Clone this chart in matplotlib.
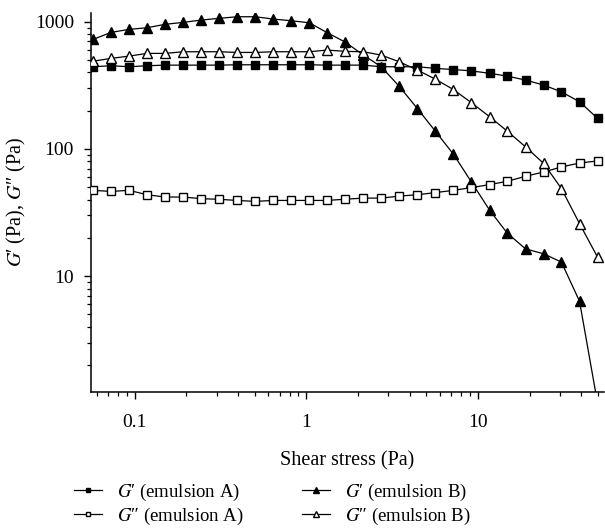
import matplotlib
matplotlib.use("Agg")
import matplotlib.pyplot as plt
import numpy as np

# ── Data ──────────────────────────────────────────────────────────
shear_stress = [0.0572, 0.0729, 0.0928, 0.118, 0.150, 0.192, 0.244, 0.311,
                0.396, 0.504, 0.641, 0.817, 1.04, 1.32, 1.69, 2.15, 2.73,
                3.48, 4.43, 5.64, 7.19, 9.15, 11.7, 14.8, 18.9, 24.1, 30.6,
                39.0, 49.7]

g1_A = [443, 451, 443, 451, 456, 456, 456, 456, 459, 459, 459, 459, 459,
        456, 456, 456, 443, 443, 443, 430, 421, 411, 393, 374, 348, 318,
        281, 235, 174]
g2_A = [47.3, 46.4, 47.3, 43.7, 41.9, 41.9, 40.7, 40.2, 39.4, 38.7, 39.4,
        39.4, 39.4, 39.4, 40.3, 41.1, 41.1, 42.6, 43.7, 45.4, 47.3, 49.7,
        52.5, 55.7, 61.0, 65.9, 72.2, 77.6, 80.5]
g1_B = [726, 825, 871, 897, 954, 989, 1031, 1064, 1095, 1095, 1050, 1018,
        982, 822, 690, 547, 443, 310, 208, 138, 90.9, 55.0, 32.9, 21.8,
        16.4, 15.0, 12.9, 6.36, 1.0]
g2_B = [490, 515, 537, 564, 564, 581, 581, 581, 574, 574, 581, 581, 581,
        599, 585, 581, 547, 484, 417, 354, 293, 231, 179, 138, 104, 77,
        48.8, 25.9, 14.1]

labels = [r"$G$′ (emulsion A)", r"$G$″ (emulsion A)",
          r"$G$′ (emulsion B)", r"$G$″ (emulsion B)"]

plt.rcParams['font.family'] = ['Liberation Serif', 'DejaVu Serif']
plt.rcParams['mathtext.fontset'] = 'stix'
plt.rcParams['font.size'] = 14

fig = plt.figure(figsize=(6.05, 5.29), dpi=100)
ax = fig.add_axes([0.150, 0.259, 0.848, 0.717])

lw = 0.9
ax.plot(shear_stress, g1_B, color='black', lw=lw, marker='^', ms=7,
        mfc='black', mec='black', label=labels[2], zorder=2)
ax.plot(shear_stress, g1_A, color='black', lw=lw, marker='s', ms=5.3,
        mfc='black', mec='black', label=labels[0], zorder=3)
ax.plot(shear_stress, g2_A, color='black', lw=lw, marker='s', ms=5.3,
        mfc='white', mec='black', mew=1.0, label=labels[1], zorder=3)
ax.plot(shear_stress, g2_B, color='black', lw=lw, marker='^', ms=7,
        mfc='white', mec='black', mew=1.0, label=labels[3], zorder=4)

ax.set_xscale('log')
ax.set_yscale('log')
ax.set_xlim(0.0555, 54.0)
ax.set_ylim(1.23, 1178)

ax.set_xticks([0.1, 1, 10])
ax.set_xticklabels(["0.1", "1", "10"])
ax.set_yticks([10, 100, 1000])
ax.set_yticklabels(["10", "100", "1000"])

ax.spines['top'].set_visible(False)
ax.spines['right'].set_visible(False)
for s in ('left', 'bottom'):
    ax.spines[s].set_linewidth(1.1)

ax.tick_params(which='major', direction='out', length=5, width=1.0, pad=7)
ax.tick_params(which='minor', direction='out', length=2.6, width=0.9)
ax.tick_params(axis='x', which='major', pad=11)

ax.set_xlabel("Shear stress (Pa)", fontsize=14.5)
ax.set_ylabel(r"$G$′ (Pa), $G$″ (Pa)", fontsize=14.5)
ax.xaxis.set_label_coords(0.5, -0.155)
ax.yaxis.set_label_coords(-0.122, 0.5)

h, l = ax.get_legend_handles_labels()
by_label = dict(zip(l, h))
handles = [by_label[x] for x in labels]
fig.legend(handles, labels, loc='center', bbox_to_anchor=(0.45, 0.047),
           ncol=2, frameon=False, markerscale=0.6, handlelength=1.5,
           handletextpad=0.8, columnspacing=3.1, labelspacing=0.15,
           fontsize=13.5)

fig.savefig("out.png", dpi=100)
